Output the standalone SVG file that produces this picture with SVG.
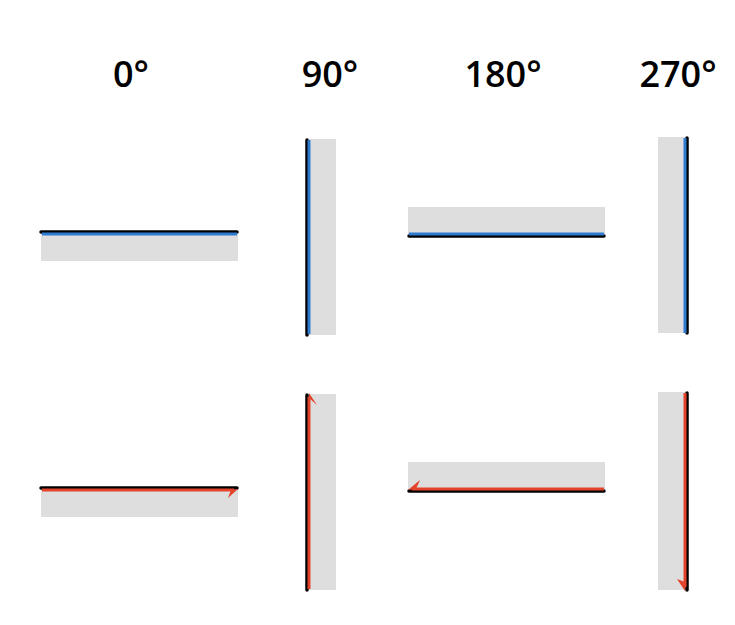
<svg xmlns="http://www.w3.org/2000/svg" width="735" height="625" viewBox="0 0 735 625">
<style>
.bg{fill:#dedede}
.k{stroke:#000;stroke-width:3.5;stroke-linecap:round;fill:none}
.b{stroke:#2e7ad1;stroke-width:3;fill:none}
.r{stroke:#e2432a;stroke-width:3;fill:none}
.ah{fill:#e2432a}
.t{font-family:"Open Sans","Noto Sans",sans-serif;font-size:36px;font-weight:600;fill:#000;text-anchor:middle}
</style>
<rect width="735" height="625" fill="#fff"/>
<g id="labels">
<text class="t" x="131" y="87">0°</text>
<text class="t" x="330" y="87">90°</text>
<text class="t" x="503" y="87">180°</text>
<text class="t" x="678" y="87">270°</text>
</g>
<g id="n0a"><rect class="bg" x="41" y="232" width="197" height="29"/><line class="k" x1="41" y1="232" x2="237" y2="232"/><line class="b" x1="42" y1="234" x2="237" y2="234"/></g>
<g id="n90a"><rect class="bg" x="307" y="139" width="29" height="196"/><line class="k" x1="307" y1="140" x2="307" y2="335"/><line class="b" x1="309" y1="140" x2="309" y2="334"/></g>
<g id="n180a"><rect class="bg" x="408" y="207" width="197" height="29"/><line class="k" x1="409" y1="236" x2="604" y2="236"/><line class="b" x1="409" y1="234" x2="604" y2="234"/></g>
<g id="n270a"><rect class="bg" x="658" y="137" width="29" height="196"/><line class="k" x1="687" y1="138" x2="687" y2="333"/><line class="b" x1="685" y1="138" x2="685" y2="333"/></g>
<g id="n0b"><rect class="bg" x="41" y="488" width="197" height="29"/><line class="k" x1="41" y1="488" x2="237" y2="488"/><line class="r" x1="42" y1="490" x2="234" y2="490"/><polygon class="ah" points="238,489 228,498 231,490"/></g>
<g id="n90b"><rect class="bg" x="307" y="394" width="29" height="196"/><line class="k" x1="307" y1="395" x2="307" y2="590"/><line class="r" x1="309" y1="397" x2="309" y2="589"/><polygon class="ah" points="309,393 317,405 309,398"/></g>
<g id="n180b"><rect class="bg" x="408" y="462" width="197" height="29"/><line class="k" x1="409" y1="491" x2="604" y2="491"/><line class="r" x1="412" y1="489" x2="604" y2="489"/><polygon class="ah" points="408,490 420,480 416,489"/></g>
<g id="n270b"><rect class="bg" x="658" y="392" width="29" height="198"/><line class="k" x1="687" y1="393" x2="687" y2="590"/><line class="r" x1="685" y1="393" x2="685" y2="587"/><polygon class="ah" points="685,591 677,579 685,582"/></g>
</svg>
